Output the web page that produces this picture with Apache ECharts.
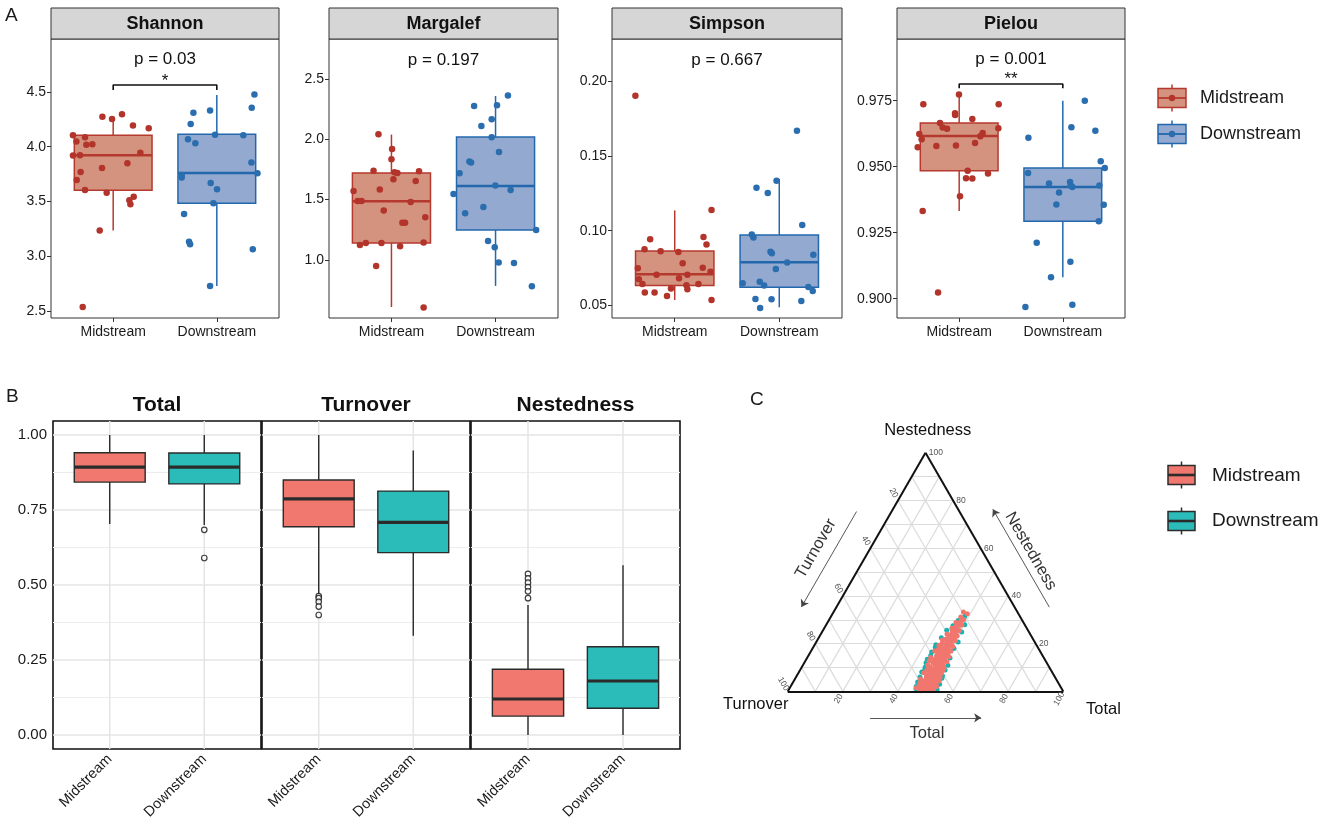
<!DOCTYPE html>
<html><head><meta charset="utf-8">
<script src="https://cdn.jsdelivr.net/npm/echarts@6/dist/echarts.min.js"></script>
<style>html,body{margin:0;padding:0;background:#fff}#c{width:1325px;height:833px}</style>
</head><body><div id="c"></div>
<script>
const FONT = '"Liberation Sans", Arial, Helvetica, sans-serif';
const groups = ['Midstream', 'Downstream'];

// ---------- Panel A : alpha diversity (points = value, jitter offset from category) ----------
const alphaNames = ['Shannon', 'Margalef', 'Simpson', 'Pielou'];
const alphaPText = ['p = 0.03', 'p = 0.197', 'p = 0.667', 'p = 0.001'];
const alphaStars = ['*', '', '', '**'];

const shannonMid = [4.275,4.253,4.296,4.193,4.168,4.104,4.086,4.049,4.019,4.022,3.919,3.922,3.946,3.849,3.806,3.769,3.696,3.605,3.581,3.544,3.511,3.474,3.234,2.537];
const shannonMidJit = [-0.104,-0.011,0.085,0.191,0.343,-0.388,-0.272,-0.355,-0.259,-0.201,-0.388,-0.320,0.262,0.137,-0.108,-0.314,-0.352,-0.272,-0.063,0.198,0.156,0.166,-0.130,-0.294];
const shannonDown = [4.476,4.357,4.311,4.330,4.208,4.068,4.031,4.110,4.104,3.855,3.757,3.742,3.718,3.669,3.611,3.483,3.386,3.133,3.109,3.063,2.728];
const shannonDownJit = [0.363,0.337,-0.226,-0.065,-0.252,-0.278,-0.207,-0.017,0.256,0.334,0.392,-0.339,-0.339,-0.059,0.002,-0.033,-0.316,-0.268,-0.258,0.347,-0.065];
const shannonMidBox = [3.234,3.602,3.922,4.104,4.25];
const shannonDownBox = [2.728,3.483,3.760,4.113,4.473];

const margalefMid = [2.041,1.920,1.834,1.740,1.727,1.721,1.735,1.668,1.655,1.572,1.583,1.489,1.489,1.481,1.409,1.309,1.309,1.354,1.124,1.141,1.141,1.113,1.144,0.950,0.605];
const margalefMidJit = [-0.125,0.006,0.0,-0.172,0.029,0.057,0.265,0.019,0.233,-0.364,-0.112,-0.325,-0.287,0.185,-0.074,0.105,0.131,0.325,-0.303,-0.246,-0.096,0.083,0.309,-0.147,0.309];
const margalefDown = [2.362,2.276,2.282,2.166,2.110,2.017,1.895,1.815,1.807,1.718,1.616,1.580,1.547,1.439,1.387,1.249,1.157,1.105,0.978,0.975,0.782];
const margalefDownJit = [0.119,-0.206,0.014,-0.037,-0.136,-0.037,0.033,-0.251,-0.235,-0.346,-0.002,0.145,-0.404,-0.117,-0.292,0.390,-0.072,-0.008,0.030,0.177,0.349];
const margalefMidBox = [0.61,1.141,1.486,1.721,2.039];
const margalefDownBox = [0.785,1.249,1.613,2.019,2.359];

const simpsonMid = [0.1904,0.1138,0.0942,0.0958,0.0908,0.0875,0.0862,0.0857,0.0781,0.0748,0.0752,0.0725,0.0705,0.0705,0.0681,0.0674,0.0643,0.0643,0.0634,0.0607,0.0612,0.0585,0.0585,0.0562,0.0536];
const simpsonMidJit = [-0.376,0.352,-0.235,0.275,0.304,-0.289,-0.135,0.035,0.076,-0.353,0.268,0.342,-0.174,0.121,0.041,-0.343,-0.309,0.227,0.112,0.121,-0.036,-0.286,-0.193,-0.074,0.352];
const simpsonDown = [0.1670,0.1335,0.1288,0.1252,0.1038,0.0975,0.0955,0.0859,0.0848,0.0839,0.0786,0.0743,0.0647,0.0658,0.0632,0.0623,0.0596,0.0542,0.0540,0.0529,0.0482];
const simpsonDownJit = [0.169,-0.026,-0.218,-0.110,0.220,-0.263,-0.247,-0.084,-0.071,0.326,0.076,-0.033,-0.350,-0.187,-0.145,0.278,0.320,-0.228,-0.074,0.211,-0.183];
const simpsonMidBox = [0.0536,0.0632,0.0708,0.0864,0.1136];
const simpsonDownBox = [0.0487,0.0621,0.0788,0.0971,0.1346];

const pielouMid = [0.9773,0.9736,0.9736,0.9702,0.9696,0.9681,0.9665,0.9648,0.9644,0.9646,0.9624,0.9628,0.9604,0.9615,0.9574,0.9578,0.9580,0.9590,0.9485,0.9474,0.9456,0.9455,0.9388,0.9332,0.9023];
const pielouMidJit = [-0.002,-0.346,0.381,-0.040,-0.039,0.127,-0.185,-0.159,-0.117,0.378,-0.385,0.227,-0.362,0.204,-0.400,-0.220,-0.031,0.153,0.082,0.278,0.066,0.127,0.008,-0.352,-0.204];
const pielouDown = [0.9750,0.9649,0.9636,0.9610,0.9521,0.9495,0.9476,0.9436,0.9442,0.9429,0.9423,0.9429,0.9402,0.9357,0.9356,0.9293,0.9212,0.9140,0.9081,0.8977,0.8968];
const pielouDownJit = [0.212,0.083,0.314,-0.332,0.366,0.405,-0.335,-0.133,0.070,0.076,0.092,0.353,-0.036,-0.062,0.395,0.347,-0.252,0.073,-0.114,0.092,-0.361];
const pielouMidBox = [0.9332,0.9485,0.9616,0.9665,0.9782];
const pielouDownBox = [0.9081,0.9293,0.9423,0.9495,0.975];

const shannonTicks = [2.5,3.0,3.5,4.0,4.5];
const margalefTicks = [1.0,1.5,2.0,2.5];
const simpsonTicks = [0.05,0.10,0.15,0.20];
const pielouTicks = [0.900,0.925,0.950,0.975];

// ---------- Panel B : beta diversity boxplots [low, Q1, median, Q3, high] ----------
const betaNames = ['Total', 'Turnover', 'Nestedness'];
const betaTotalMid = [0.703,0.843,0.893,0.941,1.0];
const betaTotalDown = [0.700,0.837,0.893,0.940,1.0];
const betaTurnMid = [0.469,0.694,0.787,0.850,1.0];
const betaTurnDown = [0.331,0.608,0.709,0.813,0.948];
const betaNestMid = [0.0,0.063,0.120,0.219,0.433];
const betaNestDown = [0.0,0.089,0.180,0.294,0.566];
const betaTotalMidOut = [];
const betaTotalDownOut = [0.684,0.590];
const betaTurnMidOut = [0.463,0.456,0.444,0.428,0.400];
const betaTurnDownOut = [];
const betaNestMidOut = [0.537,0.522,0.508,0.493,0.479,0.456];
const betaNestDownOut = [];
const betaTicks = [0.00,0.25,0.50,0.75,1.00];
const betaMinor = [0.125,0.375,0.625,0.875];

// ---------- Panel C : ternary [Total %, Nestedness %] ----------
const ternTicks = [20,40,60,80,100];
const ternGrid = [10,20,30,40,50,60,70,80,90];
const ternMid = [[48.2,0.3],[49.5,0.4],[50.8,0.6],[47.3,0.9],[49.0,1.1],[51.3,1.2],[48.4,1.5],[50.2,1.7],[46.9,2.0],[49.7,2.1],[51.0,2.4],[48.0,2.7],[50.5,2.9],
[47.5,3.1],[49.2,3.3],[51.4,3.5],[48.6,3.8],[50.0,4.0],[46.8,4.3],[49.6,4.5],[51.1,4.8],[48.1,5.0],[50.4,5.3],[47.4,5.6],[49.1,5.8],
[51.0,6.1],[48.5,6.3],[50.1,6.6],[46.9,6.9],[49.4,7.1],[50.9,7.4],[47.8,7.7],[49.9,7.9],[48.4,8.2],[51.2,8.4],[46.6,8.7],[49.0,8.9],
[50.5,9.2],[47.5,9.5],[48.9,9.7],[50.0,10.0],[46.5,10.3],[49.5,10.6],[51.0,10.8],[47.9,11.1],[48.7,11.4],[50.3,11.7],[46.8,11.9],
[49.2,12.2],[47.6,12.5],[50.6,12.8],[48.3,13.0],[46.3,13.3],[49.7,13.6],[47.2,13.9],[48.8,14.2],[50.2,14.5],[46.6,14.8],
[48.0,15.1],[49.4,15.4],[47.1,15.7],[50.0,16.0],[46.2,16.3],[48.6,16.6],[47.5,16.9],[49.6,17.2],[45.9,17.5],[48.2,17.8],
[47.0,18.1],[49.1,18.4],[46.4,18.7],[48.5,19.0],[47.7,19.4],[49.5,19.8],[46.0,20.2],[48.1,20.6],
[47.2,21.0],[48.9,21.4],[46.5,21.9],[47.9,22.3],[49.2,22.8],[46.8,23.3],[48.3,23.8],[47.4,24.4],
[48.7,25.0],[46.9,25.6],[48.0,26.2],[47.3,26.9],[48.5,27.6],[47.6,28.4],[48.1,29.3],[47.9,30.5],[47.2,31.2],[47.1,33.3],
[49.8,0.9],[48.8,3.6],[50.8,5.6],[49.6,9.4],[48.2,11.0],[47.8,14.0],[49.0,16.2],[48.8,20.0],[47.8,24.0],
[52.5,0.8],[53.0,2.0],[52.2,3.2],[52.8,4.4],[45.9,1.5],[46.2,3.5],[52.4,5.8],[45.6,5.2],[52.0,7.5],[45.5,7.8],[51.8,9.8],[45.3,10.9],
[51.6,12.4],[45.0,12.6],[51.2,14.6],[44.8,14.2],[50.8,16.8],[44.9,16.9],[50.5,18.8],[45.2,19.3],[50.2,21.2],[45.4,21.5],[49.9,23.2],
[45.8,24.0],[49.6,25.5],[46.3,26.5],[49.3,27.8],[46.6,28.9],[48.8,30.0],[48.9,32.5],[52.0,1.4],[51.7,4.0],[51.5,6.8],[46.0,9.0],[51.9,8.9]];
const ternDown = [[46.0,1.1],[53.8,0.8],[45.2,3.9],[53.6,3.0],[44.6,8.1],[52.9,6.5],[44.8,10.2],[44.2,12.0],[52.6,11.0],[44.0,16.5],[44.4,15.0],[51.9,14.0],
[51.5,20.7],[44.0,19.5],[44.9,25.6],[50.7,24.9],[50.3,27.9],[47.0,29.7],[45.6,2.0],[53.2,5.5],[45.0,6.0],[52.6,9.0],[43.9,13.5],[44.5,22.5],
[51.3,18.0],[53.0,2.2],[44.3,18.5],[45.1,9.3],[48.5,31.5],[46.2,27.5]];

// ================= build =================
const MID_PT = '#B3342B', DOWN_PT = '#2A6EAF';
const MID_FILL = '#D4937F', DOWN_FILL = '#93A9CF';
const MID_LINE = '#B5392E', DOWN_LINE = '#2368AD';
const B_MID = '#F0786F', B_DOWN = '#2BBBB8';

const alphaData = [
  {mid: shannonMid, midJ: shannonMidJit, down: shannonDown, downJ: shannonDownJit, mb: shannonMidBox, db: shannonDownBox, ticks: shannonTicks},
  {mid: margalefMid, midJ: margalefMidJit, down: margalefDown, downJ: margalefDownJit, mb: margalefMidBox, db: margalefDownBox, ticks: margalefTicks},
  {mid: simpsonMid, midJ: simpsonMidJit, down: simpsonDown, downJ: simpsonDownJit, mb: simpsonMidBox, db: simpsonDownBox, ticks: simpsonTicks},
  {mid: pielouMid, midJ: pielouMidJit, down: pielouDown, downJ: pielouDownJit, mb: pielouMidBox, db: pielouDownBox, ticks: pielouTicks}
];
const alphaLayout = [
  {left: 51, width: 228, min: 2.436, max: 4.984, dec: 1, pY: 4.799, starY: 4.60, br: [4.518, 4.564]},
  {left: 329, width: 229, min: 0.519, max: 2.831, dec: 1, pY: 2.652},
  {left: 612, width: 230, min: 0.0415, max: 0.2284, dec: 2, pY: 0.2138},
  {left: 897, width: 228, min: 0.89268, max: 0.99836, dec: 3, pY: 0.9907, starY: 0.9832, br: [0.9797, 0.9813]}
];
const betaData = [
  {mb: betaTotalMid, db: betaTotalDown, mo: betaTotalMidOut, dout: betaTotalDownOut},
  {mb: betaTurnMid, db: betaTurnDown, mo: betaTurnMidOut, dout: betaTurnDownOut},
  {mb: betaNestMid, db: betaNestDown, mo: betaNestMidOut, dout: betaNestDownOut}
];
const betaLayout = [{left: 53, width: 208}, {left: 262, width: 208}, {left: 471, width: 209}];

function boxRenderer(fill, stroke, lw, medW, boxW) {
  return function (params, api) {
    const x = api.value(0);
    const lo = api.coord([x, api.value(1)]);
    const q1 = api.coord([x, api.value(2)]);
    const md = api.coord([x, api.value(3)]);
    const q3 = api.coord([x, api.value(4)]);
    const hi = api.coord([x, api.value(5)]);
    const hw = api.size([boxW, 0])[0] / 2;
    const ls = {stroke: stroke, lineWidth: lw};
    return {type: 'group', children: [
      {type: 'line', shape: {x1: lo[0], y1: lo[1], x2: q1[0], y2: q1[1]}, style: ls},
      {type: 'line', shape: {x1: q3[0], y1: q3[1], x2: hi[0], y2: hi[1]}, style: ls},
      {type: 'rect', shape: {x: q3[0] - hw, y: q3[1], width: 2 * hw, height: q1[1] - q3[1]}, style: {fill: fill, stroke: stroke, lineWidth: lw}},
      {type: 'line', shape: {x1: md[0] - hw, y1: md[1], x2: md[0] + hw, y2: md[1]}, style: {stroke: stroke, lineWidth: medW}}
    ]};
  };
}

// text placed in data coordinates through a custom series
function textSeries(xi, yi, items, z) {
  return {type: 'custom', coordinateSystem: 'cartesian2d', xAxisIndex: xi, yAxisIndex: yi, z: z || 6, silent: true, clip: false,
    data: items.map(it => [it.x, it.y]),
    renderItem: function (params, api) {
      const it = items[params.dataIndex];
      const p = api.coord([api.value(0), api.value(1)]);
      return {type: 'text', x: p[0], y: p[1], rotation: (it.rot || 0) * Math.PI / 180,
        style: {text: it.text, fill: it.color || '#111', fontSize: it.size || 14, fontFamily: FONT, fontWeight: it.weight || 'normal',
          align: it.align || 'center', verticalAlign: 'middle'}};
    }};
}

const grid = [], xAxis = [], yAxis = [], series = [], graphic = [];
function gtext(x, y, text, size, opts) {
  opts = opts || {};
  return {type: 'text', x: x, y: y, z: 11, style: {text: text, fill: opts.color || '#1a1a1a', fontSize: size, fontFamily: FONT,
    fontWeight: opts.weight || 'normal', align: opts.align || 'left', verticalAlign: 'middle'}};
}

// ---- Panel A
alphaData.forEach((d, i) => {
  const L = alphaLayout[i];
  grid.push({left: L.left, top: 39, width: L.width, height: 279, show: true, borderColor: '#333', borderWidth: 1, backgroundColor: '#fff'});
  xAxis.push({gridIndex: i, type: 'value', min: 0.4, max: 2.6,
    axisLine: {show: false}, splitLine: {show: false},
    axisTick: {show: true, customValues: [1, 2], length: 4, lineStyle: {color: '#333'}},
    axisLabel: {customValues: [1, 2], formatter: v => groups[Math.round(v) - 1], fontSize: 14, color: '#1a1a1a', margin: 7, fontFamily: FONT}});
  yAxis.push({gridIndex: i, type: 'value', min: L.min, max: L.max,
    axisLine: {show: false}, splitLine: {show: false},
    axisTick: {show: true, customValues: d.ticks, length: 4, lineStyle: {color: '#333'}},
    axisLabel: {customValues: d.ticks, formatter: v => v.toFixed(L.dec), fontSize: 14, color: '#1a1a1a', margin: 5, fontFamily: FONT}});
  const common = {xAxisIndex: i, yAxisIndex: i};
  series.push(Object.assign({type: 'custom', z: 2, renderItem: boxRenderer(MID_FILL, MID_LINE, 1.5, 2.6, 0.75), encode: {x: 0, y: [1, 2, 3, 4, 5]}, data: [[1].concat(d.mb)]}, common));
  series.push(Object.assign({type: 'custom', z: 2, renderItem: boxRenderer(DOWN_FILL, DOWN_LINE, 1.5, 2.6, 0.75), encode: {x: 0, y: [1, 2, 3, 4, 5]}, data: [[2].concat(d.db)]}, common));
  series.push(Object.assign({type: 'scatter', z: 3, symbolSize: 6.5, itemStyle: {color: MID_PT, opacity: 1}, data: d.mid.map((v, k) => [1 + d.midJ[k], v])}, common));
  series.push(Object.assign({type: 'scatter', z: 3, symbolSize: 6.5, itemStyle: {color: DOWN_PT, opacity: 1}, data: d.down.map((v, k) => [2 + d.downJ[k], v])}, common));
  const items = [{x: 1.5, y: L.pY, text: alphaPText[i], size: 17}];
  if (alphaStars[i]) items.push({x: 1.5, y: L.starY, text: alphaStars[i], size: 17});
  series.push(textSeries(i, i, items, 4));
  if (L.br) {
    series.push(Object.assign({type: 'line', z: 4, showSymbol: false, symbol: 'none', lineStyle: {color: '#111', width: 1.6},
      data: [[1, L.br[0]], [1, L.br[1]], [2, L.br[1]], [2, L.br[0]]]}, common));
  }
  graphic.push({type: 'rect', shape: {x: L.left, y: 8, width: L.width, height: 31}, style: {fill: '#D6D6D6', stroke: '#333', lineWidth: 1}, z: 10});
  graphic.push(gtext(L.left + L.width / 2, 24, alphaNames[i], 18, {weight: 'bold', align: 'center', color: '#111'}));
});

// ---- Panel B
betaData.forEach((d, j) => {
  const gi = 4 + j, L = betaLayout[j];
  grid.push({left: L.left, top: 421, width: L.width, height: 328, show: true, borderColor: '#111', borderWidth: 1.6, backgroundColor: '#fff'});
  xAxis.push({gridIndex: gi, type: 'value', min: 0.4, max: 2.6,
    axisLine: {show: false}, splitLine: {show: false},
    axisTick: {show: false},
    axisLabel: {customValues: [1, 2], formatter: v => groups[Math.round(v) - 1], rotate: 45, fontSize: 14.5, color: '#1a1a1a', margin: 8, fontFamily: FONT}});
  yAxis.push({gridIndex: gi, type: 'value', min: -0.0467, max: 1.0467,
    axisLine: {show: false}, splitLine: {show: false},
    axisTick: {show: false},
    axisLabel: {show: j === 0, customValues: betaTicks, formatter: v => v.toFixed(2), fontSize: 15, color: '#1a1a1a', margin: 6, fontFamily: FONT}});
  const common = {xAxisIndex: gi, yAxisIndex: gi};
  const gl = betaTicks.map(v => ['h', v, 1.5, '#E4E4E4']).concat(betaMinor.map(v => ['h', v, 1.2, '#EDEDED'])).concat([1, 2].map(v => ['v', v, 1.5, '#E4E4E4']));
  series.push(Object.assign({type: 'custom', z: 1, silent: true, data: gl.map(g => [g[1]]),
    renderItem: function (params, api) {
      const g = gl[params.dataIndex];
      const cs = params.coordSys;
      if (g[0] === 'h') {
        const y = api.coord([1, g[1]])[1];
        return {type: 'line', shape: {x1: cs.x, y1: y, x2: cs.x + cs.width, y2: y}, style: {stroke: g[3], lineWidth: g[2]}};
      }
      const x = api.coord([g[1], 0])[0];
      return {type: 'line', shape: {x1: x, y1: cs.y, x2: x, y2: cs.y + cs.height}, style: {stroke: g[3], lineWidth: g[2]}};
    }}, common));
  series.push(Object.assign({type: 'custom', z: 2, renderItem: boxRenderer(B_MID, '#2b2b2b', 1.4, 3.2, 0.75), encode: {x: 0, y: [1, 2, 3, 4, 5]}, data: [[1].concat(d.mb)]}, common));
  series.push(Object.assign({type: 'custom', z: 2, renderItem: boxRenderer(B_DOWN, '#2b2b2b', 1.4, 3.2, 0.75), encode: {x: 0, y: [1, 2, 3, 4, 5]}, data: [[2].concat(d.db)]}, common));
  const outs = d.mo.map(v => [1, v]).concat(d.dout.map(v => [2, v]));
  series.push(Object.assign({type: 'scatter', z: 3, symbol: 'circle', symbolSize: 5.5, itemStyle: {color: '#fff', borderColor: '#111', borderWidth: 1.2}, data: outs}, common));
  graphic.push(gtext(L.left + L.width / 2, 405, betaNames[j], 21, {weight: 'bold', align: 'center', color: '#111'}));
});

// ---- Panel C: ternary on a hidden cartesian grid
const H = Math.sqrt(3) / 2;
const tern = (total, nest) => [total + nest / 2, nest * H];
const CG = 7;
grid.push({left: 732.6, top: 415.8, width: 385.8, height: 330.7});
xAxis.push({gridIndex: CG, type: 'value', min: -20, max: 120, show: false});
yAxis.push({gridIndex: CG, type: 'value', min: -20, max: 100, show: false});
const cc = {xAxisIndex: CG, yAxisIndex: CG, coordinateSystem: 'cartesian2d'};
const gridLines = [];
ternGrid.forEach(k => {
  gridLines.push({coords: [tern(0, k), tern(100 - k, k)]});
  gridLines.push({coords: [tern(k, 0), tern(k, 100 - k)]});
  gridLines.push({coords: [tern(100 - k, 0), tern(0, 100 - k)]});
});
series.push(Object.assign({type: 'lines', z: 1, silent: true, clip: false, lineStyle: {color: '#DCDCDC', width: 1.2, opacity: 1}, data: gridLines}, cc));
series.push(Object.assign({type: 'lines', z: 5, silent: true, clip: false, lineStyle: {color: '#111', width: 2, opacity: 1},
  data: [{coords: [tern(0, 0), tern(100, 0)]}, {coords: [tern(100, 0), tern(0, 100)]}, {coords: [tern(0, 100), tern(0, 0)]}]}, cc));
series.push(Object.assign({type: 'scatter', z: 3, clip: false, symbolSize: 5, itemStyle: {color: '#17B3B0', opacity: 1}, data: ternDown.map(p => tern(p[0], p[1]))}, cc));
series.push(Object.assign({type: 'scatter', z: 4, clip: false, symbolSize: 5, itemStyle: {color: '#F0766E', opacity: 1}, data: ternMid.map(p => tern(p[0], p[1]))}, cc));
const tl = [];
ternTicks.forEach(k => {
  const r = tern(100 - k, k); tl.push({x: r[0] + 1.2, y: r[1], text: String(k), size: 8.5, color: '#555', align: 'left'});
  const l = tern(0, 100 - k); tl.push({x: l[0] - 1.6, y: l[1] + 2.7, text: String(k), size: 8.5, color: '#555', rot: -60});
  const b = tern(k, 0); tl.push({x: b[0] - 1.5, y: b[1] - 2.7, text: String(k), size: 8.5, color: '#555', rot: 60});
});
series.push(textSeries(CG, CG, tl, 6));
const leftEdge = (f, d) => [50 * f - H * d, 100 * H * f + 0.5 * d];
const rightEdge = (f, d) => [100 - 50 * f + H * d, 100 * H * f + 0.5 * d];
series.push(Object.assign({type: 'lines', z: 6, silent: true, clip: false, symbol: ['none', 'arrow'], symbolSize: 7,
  lineStyle: {color: '#444', width: 0.9, opacity: 1},
  data: [{coords: [leftEdge(0.69, 11), leftEdge(0.29, 11)]}, {coords: [rightEdge(0.29, 10.9), rightEdge(0.70, 10.9)]}, {coords: [[29.9, -9.6], [70.2, -9.6]]}]}, cc));
const lt = rightEdge(0.5, 15.2), ll = leftEdge(0.5, 17);
series.push(textSeries(CG, CG, [
  {x: ll[0], y: ll[1], text: 'Turnover', size: 16.5, color: '#333', rot: 60},
  {x: lt[0], y: lt[1], text: 'Nestedness', size: 16.5, color: '#333', rot: -60},
  {x: 50.5, y: -15.3, text: 'Total', size: 16.5, color: '#333'},
  {x: 50.8, y: 94.6, text: 'Nestedness', size: 16.5, color: '#111'},
  {x: -11.6, y: -4.9, text: 'Turnover', size: 16.5, color: '#111'},
  {x: 114.6, y: -6.6, text: 'Total', size: 16.5, color: '#111'}
], 6));

// ---- legends and panel letters
function legendKey(x, yc, fill, stroke, pt, hasPoint, h, w) {
  const out = [];
  out.push({type: 'line', shape: {x1: x + w / 2, y1: yc - h / 2 - 4, x2: x + w / 2, y2: yc + h / 2 + 4}, style: {stroke: stroke, lineWidth: 1.5}, z: 10});
  out.push({type: 'rect', shape: {x: x, y: yc - h / 2, width: w, height: h}, style: {fill: fill, stroke: stroke, lineWidth: 1.5}, z: 11});
  out.push({type: 'line', shape: {x1: x, y1: yc, x2: x + w, y2: yc}, style: {stroke: stroke, lineWidth: hasPoint ? 1.8 : 2.6}, z: 12});
  if (hasPoint) out.push({type: 'circle', shape: {cx: x + w / 2, cy: yc, r: 3.2}, style: {fill: pt}, z: 13});
  return out;
}
graphic.push(...legendKey(1158, 98, MID_FILL, MID_LINE, MID_PT, true, 19, 28));
graphic.push(...legendKey(1158, 134, DOWN_FILL, DOWN_LINE, DOWN_PT, true, 19, 28));
graphic.push(gtext(1200, 98, groups[0], 18));
graphic.push(gtext(1200, 134, groups[1], 18));
graphic.push(...legendKey(1168, 475, B_MID, '#2b2b2b', null, false, 19, 27));
graphic.push(...legendKey(1168, 521, B_DOWN, '#2b2b2b', null, false, 19, 27));
graphic.push(gtext(1212, 476, groups[0], 19));
graphic.push(gtext(1212, 521, groups[1], 19));
graphic.push(gtext(5, 16, 'A', 19));
graphic.push(gtext(6, 397, 'B', 19));
graphic.push(gtext(750, 400, 'C', 19));

const chart = echarts.init(document.getElementById('c'), null, {renderer: 'canvas'});
chart.setOption({animation: false, backgroundColor: '#fff', textStyle: {fontFamily: FONT}, grid, xAxis, yAxis, series, graphic});
</script></body></html>
